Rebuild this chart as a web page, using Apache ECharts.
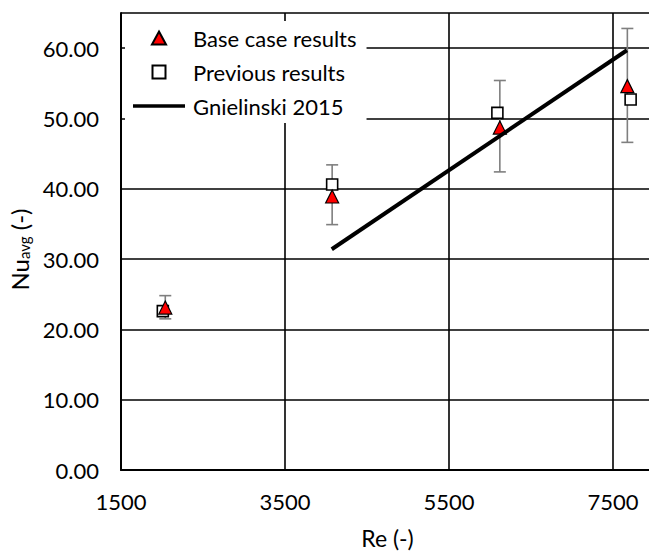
<!DOCTYPE html>
<html>
<head>
<meta charset="utf-8">
<script src="https://cdn.jsdelivr.net/npm/echarts@6/dist/echarts.min.js"></script>
<style>
  html, body { margin: 0; padding: 0; background: #fff; }
  #chart { width: 649px; height: 554px; }
</style>
</head>
<body>
<div id="chart"></div>
<script>
// Average Nusselt number vs Reynolds number
const reBase = [2040, 4075, 6120, 7675];
const nuBase = [23.1, 38.9, 48.7, 54.6];
const nuBaseLow = [21.5, 34.9, 42.4, 46.6];
const nuBaseHigh = [24.8, 43.4, 55.4, 62.8];

const rePrev = [2010, 4075, 6090, 7715];
const nuPrev = [22.6, 40.6, 50.8, 52.7];

const reGnielinski = [4070, 7670];
const nuGnielinski = [31.4, 59.7];

const xTicks = { min: 1500, max: 8000, interval: 2000 };
const yTicks = { min: 0, max: 65, interval: 10 };

const FONT = 'Lato';
const FS = 22;

const zip = (xs, ys) => xs.map((x, i) => [x, ys[i]]);
const errData = reBase.map((x, i) => [x, nuBaseLow[i], nuBaseHigh[i]]);

const chart = echarts.init(document.getElementById('chart'), null, { renderer: 'svg' });

chart.setOption({
  animation: false,
  backgroundColor: '#fff',
  textStyle: { fontFamily: FONT, color: '#000' },
  grid: {
    left: 121, top: 13, right: -5, bottom: 84,
    containLabel: false,
    outerBoundsMode: 'none'
  },
  legend: {
    left: 125,
    top: 21,
    orient: 'vertical',
    backgroundColor: '#fff',
    padding: [6, 10, 6, 8],
    itemWidth: 52,
    itemHeight: 13,
    itemGap: 12,
    symbolKeepAspect: true,
    selectedMode: false,
    textStyle: { fontFamily: FONT, fontSize: FS, color: '#000', padding: [0, 0, 0, 3] },
    data: [
      { name: 'Base case results', icon: 'path://M6.5,0 L13,12 L0,12 Z' },
      { name: 'Previous results', icon: 'path://M0,0 L10,0 L10,10 L0,10 Z' },
      { name: 'Gnielinski 2015', icon: 'path://M0,0 L52,0 L52,3.5 L0,3.5 Z' }
    ],
    z: 10
  },
  xAxis: {
    type: 'value',
    min: xTicks.min,
    max: xTicks.max,
    interval: xTicks.interval,
    name: 'Re (-)',
    nameLocation: 'middle',
    nameGap: 56,
    nameTextStyle: { fontFamily: FONT, fontSize: 23, color: '#000' },
    axisLine: { show: true, lineStyle: { color: '#000', width: 2 } },
    axisTick: { show: false },
    axisLabel: {
      margin: 20, fontFamily: FONT, fontSize: FS, color: '#000', showMaxLabel: false,
      formatter: v => String(v)
    },
    splitLine: { show: true, lineStyle: { color: '#000', width: 1.6 } }
  },
  yAxis: {
    type: 'value',
    min: yTicks.min,
    max: yTicks.max,
    interval: yTicks.interval,
    name: 'Nu{s|avg} (-)',
    nameLocation: 'middle',
    nameGap: 86,
    nameRotate: 90,
    nameTextStyle: {
      fontFamily: FONT,
      fontSize: 24,
      color: '#000',
      padding: [0, 16, 0, 0],
      rich: {
        s: { fontFamily: FONT, fontSize: 15, color: '#000', padding: [10, 0, 0, 0] }
      }
    },
    axisLine: { show: true, lineStyle: { color: '#000', width: 2 } },
    axisTick: { show: false },
    axisLabel: {
      margin: 22, fontFamily: FONT, fontSize: FS, color: '#000', showMaxLabel: false,
      formatter: v => v.toFixed(2)
    },
    splitLine: { show: true, lineStyle: { color: '#000', width: 1.6 } }
  },
  series: [
    {
      name: 'error',
      type: 'custom',
      data: errData,
      z: 2,
      silent: true,
      renderItem: (params, api) => {
        const x = api.value(0);
        const lo = api.coord([x, api.value(1)]);
        const hi = api.coord([x, api.value(2)]);
        const cap = 6;
        const style = { stroke: '#7f7f7f', lineWidth: 1.6, fill: null };
        return {
          type: 'group',
          children: [
            { type: 'line', shape: { x1: lo[0], y1: lo[1], x2: hi[0], y2: hi[1] }, style },
            { type: 'line', shape: { x1: lo[0] - cap, y1: lo[1], x2: lo[0] + cap, y2: lo[1] }, style },
            { type: 'line', shape: { x1: hi[0] - cap, y1: hi[1], x2: hi[0] + cap, y2: hi[1] }, style }
          ]
        };
      }
    },
    {
      name: 'Previous results',
      type: 'scatter',
      data: zip(rePrev, nuPrev),
      symbol: 'rect',
      symbolSize: 11,
      z: 3,
      itemStyle: { color: '#fff', borderColor: '#000', borderWidth: 1.6, opacity: 1 }
    },
    {
      name: 'Base case results',
      type: 'scatter',
      data: zip(reBase, nuBase),
      symbol: 'triangle',
      symbolSize: 13,
      z: 4,
      itemStyle: { color: '#ff0000', borderColor: '#000', borderWidth: 1.2, opacity: 1 }
    },
    {
      name: 'Gnielinski 2015',
      type: 'line',
      data: zip(reGnielinski, nuGnielinski),
      symbol: 'none',
      z: 5,
      lineStyle: { color: '#000', width: 4 },
      itemStyle: { color: '#000' }
    }
  ]
});
</script>
</body>
</html>
